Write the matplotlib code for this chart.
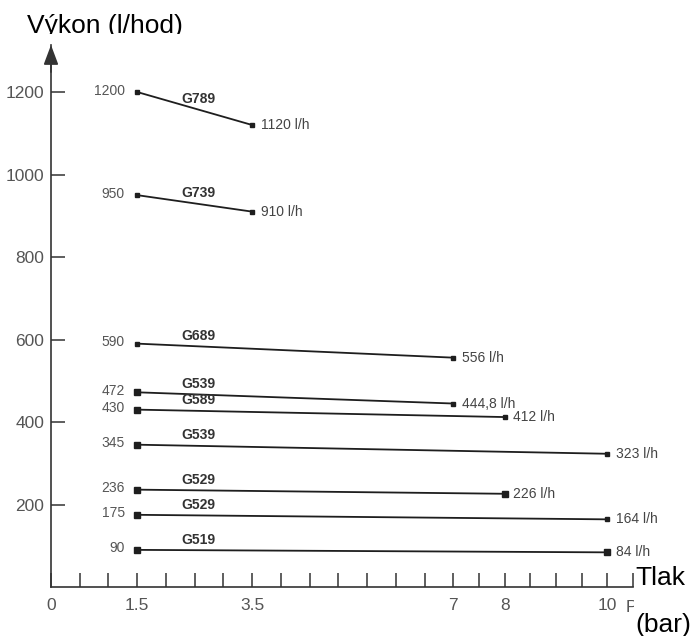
import numpy as np
import matplotlib.pyplot as plt
from matplotlib.patches import Rectangle

# pump models: flow (l/h) at 1.5 bar and at the max pressure
names = ['G789', 'G739', 'G689', 'G539', 'G589', 'G539', 'G529', 'G529', 'G519']
p_start = [1.5, 1.5, 1.5, 1.5, 1.5, 1.5, 1.5, 1.5, 1.5]
p_end = [3.5, 3.5, 7, 7, 8, 10, 8, 10, 10]
q_start = [1200, 950, 590, 472, 430, 345, 236, 175, 90]
q_end = [1120, 910, 556, 444.8, 412, 323, 226, 164, 84]
start_labels = ['1200', '950', '590', '472', '430', '345', '236', '175', '90']
end_labels = ['1120 l/h', '910 l/h', '556 l/h', '444,8 l/h', '412 l/h',
              '323 l/h', '226 l/h', '164 l/h', '84 l/h']

x_tick_values = [0, 1.5, 3.5, 7, 8, 10]
x_tick_labels = ['0', '1.5', '3.5', '7', '8', '10']
y_tick_values = [200, 400, 600, 800, 1000, 1200]

# marker sizes (style only)
ms_start = [3, 3, 3, 4.5, 4.5, 4.5, 4.5, 4.5, 4.5]
ms_end = [3, 3, 3, 3, 3, 3, 4.5, 3, 4.5]

plt.rcParams['font.family'] = ['Liberation Sans', 'DejaVu Sans']

# pressure axis is drawn a bit tighter after 7 bar
K = 0.893


def fwd(x):
    x = np.asarray(x, dtype=float)
    return np.where(x <= 7, x, 7 + (x - 7) * K)


def inv(y):
    y = np.asarray(y, dtype=float)
    return np.where(y <= 7, y, 7 + (y - 7) / K)


fig = plt.figure(figsize=(6.94, 6.36), dpi=100)
W, H = 694, 636
ax = fig.add_axes([51 / W, (H - 587) / H, 582 / W, 542 / H])
ax.set_xscale('function', functions=(fwd, inv))
ax.set_xlim(0, 10.5)
ax.set_ylim(0, 1314)

axis_col = '#333333'
for s in ['top', 'right']:
    ax.spines[s].set_visible(False)
for s in ['left', 'bottom']:
    ax.spines[s].set_color(axis_col)
    ax.spines[s].set_linewidth(1.2)

ax.set_xticks(x_tick_values)
ax.set_xticklabels(x_tick_labels)
ax.set_xticks(np.arange(0.5, 10.6, 0.5), minor=True)
ax.set_yticks(y_tick_values)
ax.tick_params(axis='x', which='both', direction='in', length=10, width=1.1,
               color=axis_col, pad=8, labelsize=12.5, labelcolor='#555555')
ax.tick_params(axis='y', which='major', direction='in', length=10, width=1.1,
               color=axis_col, pad=5, labelsize=12.5, labelcolor='#555555')

# arrow on the top of the y axis
ax.annotate('', xy=(0, 1), xycoords=('data', 'axes fraction'),
            xytext=(0, 0.95), textcoords=('data', 'axes fraction'),
            arrowprops=dict(arrowstyle='-|>,head_length=1.2,head_width=0.45',
                            mutation_scale=10, color=axis_col, lw=1.2,
                            shrinkA=0, shrinkB=0), annotation_clip=False)

line_col = '#1e1e1e'
for i in range(len(names)):
    ax.plot([p_start[i], p_end[i]], [q_start[i], q_end[i]], color=line_col,
            lw=1.3, solid_capstyle='butt', clip_on=False)
    ax.plot(p_start[i], q_start[i], marker='s', ms=ms_start[i], color=line_col,
            clip_on=False)
    ax.plot(p_end[i], q_end[i], marker='s', ms=ms_end[i], color=line_col,
            clip_on=False)

    ax.annotate(start_labels[i], xy=(p_start[i], q_start[i]), xytext=(-9, 1),
                textcoords='offset points', ha='right', va='center',
                fontsize=10, color='#555555')
    ax.annotate(end_labels[i], xy=(p_end[i], q_end[i]), xytext=(6, 0),
                textcoords='offset points', ha='left', va='center',
                fontsize=10, color='#444444')

    # model name sits just above the line
    frac = (2.55 - p_start[i]) / (p_end[i] - p_start[i])
    y_line = q_start[i] + (q_end[i] - q_start[i]) * frac
    ax.annotate(names[i], xy=(2.26, y_line), xytext=(0, 7.5),
                textcoords='offset points', ha='left', va='center',
                fontsize=10, fontweight='bold', color='#333333')

# axis titles
fig.text(27 / W, 1 - 33 / H, 'Výkon (l/hod)', ha='left', va='baseline',
         fontsize=19, color='black', zorder=1)
fig.patches.append(Rectangle((0, 1 - 44 / H), 1, 10 / H, transform=fig.transFigure,
                             facecolor='white', edgecolor='none', zorder=2))

# the old "P" label is half hidden behind the Tlak box
fig.text(626 / W, 1 - 612 / H, 'P', ha='left', va='baseline', fontsize=12.5,
         color='#555555', zorder=1)
fig.patches.append(Rectangle((634 / W, 0), 60 / W, 78 / H, transform=fig.transFigure,
                             facecolor='white', edgecolor='none', zorder=2))
fig.text(635 / W, 1 - 585 / H, 'Tlak', ha='left', va='baseline', fontsize=19,
         color='black', zorder=3)
fig.text(635 / W, 1 - 632 / H, '(bar)', ha='left', va='baseline', fontsize=19,
         color='black', zorder=3)

plt.savefig('out.png', dpi=100, facecolor='w')
